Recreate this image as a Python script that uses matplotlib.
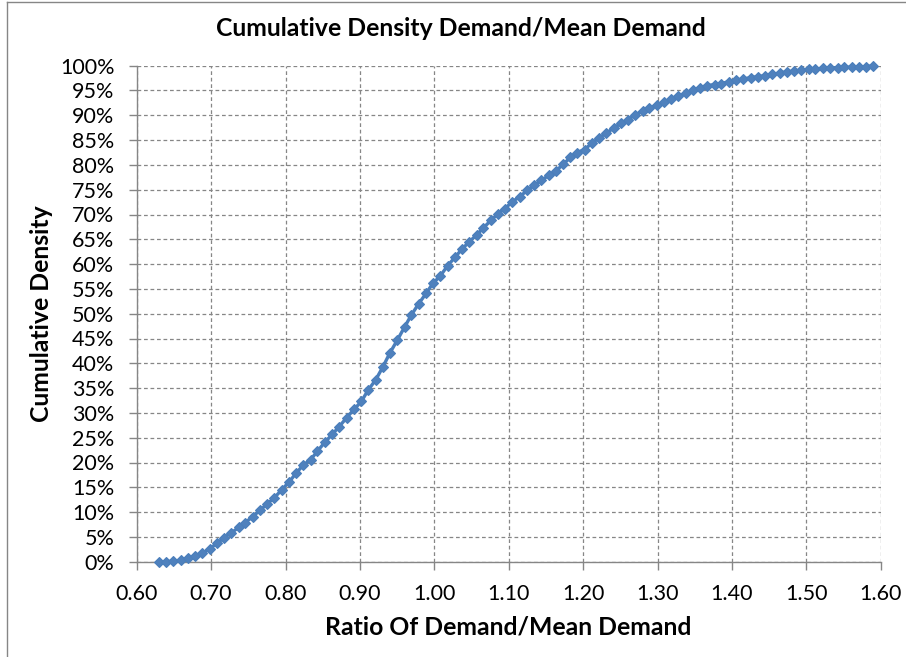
import matplotlib
matplotlib.use("Agg")
import matplotlib.pyplot as plt
from matplotlib.ticker import PercentFormatter, MultipleLocator, FormatStrFormatter
from matplotlib.lines import Line2D

# ---- data ----
ratio = [0.630, 0.640, 0.649, 0.659, 0.669, 0.678, 0.688, 0.698, 0.708, 0.717,
         0.727, 0.737, 0.746, 0.756, 0.766, 0.775, 0.785, 0.795, 0.805, 0.814,
         0.824, 0.834, 0.843, 0.853, 0.863, 0.872, 0.882, 0.892, 0.902, 0.911,
         0.921, 0.931, 0.940, 0.950, 0.960, 0.969, 0.979, 0.989, 0.998, 1.008,
         1.018, 1.028, 1.037, 1.047, 1.057, 1.066, 1.076, 1.086, 1.095, 1.105,
         1.115, 1.125, 1.134, 1.144, 1.154, 1.163, 1.173, 1.183, 1.192, 1.202,
         1.212, 1.222, 1.231, 1.241, 1.251, 1.260, 1.270, 1.280, 1.289, 1.299,
         1.309, 1.318, 1.328, 1.338, 1.348, 1.357, 1.367, 1.377, 1.386, 1.396,
         1.406, 1.415, 1.425, 1.435, 1.445, 1.454, 1.464, 1.474, 1.483, 1.493,
         1.503, 1.512, 1.522, 1.532, 1.542, 1.551, 1.561, 1.571, 1.580, 1.590]

cum_density = [0.0, 0.0, 0.1, 0.3, 0.7, 1.1, 1.7, 2.6, 3.7, 4.8,
               5.8, 6.9, 7.9, 9.1, 10.4, 11.6, 12.9, 14.5, 16.1, 17.8,
               19.5, 20.6, 22.3, 24.1, 25.7, 27.2, 29.0, 30.7, 32.3, 34.6,
               36.6, 39.3, 42.0, 44.6, 47.3, 49.7, 52.0, 54.1, 56.1, 57.6,
               59.7, 61.4, 63.0, 64.5, 65.9, 67.3, 68.8, 70.2, 71.2, 72.6,
               73.6, 74.9, 75.9, 76.9, 77.9, 78.7, 80.1, 81.5, 82.5, 83.1,
               84.4, 85.5, 86.4, 87.4, 88.4, 89.1, 90.1, 90.9, 91.4, 92.1,
               92.6, 93.3, 93.9, 94.4, 95.1, 95.6, 96.0, 96.2, 96.4, 96.8,
               97.1, 97.3, 97.6, 97.8, 98.0, 98.3, 98.5, 98.8, 98.9, 99.1,
               99.3, 99.3, 99.5, 99.5, 99.6, 99.7, 99.7, 99.7, 99.8, 100.0]

title = "Cumulative Density Demand/Mean Demand"
xlabel = "Ratio Of Demand/Mean Demand"
ylabel = "Cumulative Density"

# ---- styling ----
plt.rcParams['font.family'] = ['Lato', 'DejaVu Sans']
W, H, DPI = 906, 657, 100
fig = plt.figure(figsize=(W / DPI, H / DPI), dpi=DPI)

L, R = 136.7, 880.7
B, T = 561.7, 65.7
ax = fig.add_axes([L / W, 1 - B / H, (R - L) / W, (B - T) / H])

grid_c = "#868686"
line_c = "#4A7EBB"

ax.plot(ratio, cum_density, color=line_c, lw=2.4, marker="D", markersize=5.6,
        markerfacecolor="#4F81BD", markeredgecolor="#4A7EBB", markeredgewidth=0.8,
        zorder=3, clip_on=False)

ax.set_xlim(0.6, 1.6)
ax.set_ylim(0, 100)
ax.xaxis.set_major_locator(MultipleLocator(0.1))
ax.xaxis.set_major_formatter(FormatStrFormatter("%.2f"))
ax.yaxis.set_major_locator(MultipleLocator(5))
ax.yaxis.set_major_formatter(PercentFormatter(xmax=100, decimals=0))

ax.grid(True, color=grid_c, linestyle=(0, (3.0, 2.2)), linewidth=0.9)
ax.set_axisbelow(True)
for s in ("top", "right"):
    ax.spines[s].set_visible(False)
for s in ("left", "bottom"):
    ax.spines[s].set_color(grid_c)
    ax.spines[s].set_linewidth(1.0)

ax.tick_params(axis="both", direction="out", length=6, width=1.0, color=grid_c,
               labelsize=15.5, labelcolor="black")
ax.tick_params(axis="y", pad=10)
ax.tick_params(axis="x", pad=10)

fig.text(461 / W, 1 - 28 / H, title, ha="center", va="center",
         fontsize=17.8, fontweight="bold")
fig.text(508 / W, 1 - 627 / H, xlabel, ha="center", va="center",
         fontsize=17.8, fontweight="bold")
fig.text(42 / W, 1 - 314 / H, ylabel, ha="center", va="center", rotation=90,
         fontsize=17.8, fontweight="bold")

# chart-area border (left and top edges visible in the reference)
fig.add_artist(Line2D([7 / W, 7 / W], [0, 1 - 2 / H], color=grid_c, lw=1.0,
                      transform=fig.transFigure))
fig.add_artist(Line2D([7 / W, 1], [1 - 2 / H, 1 - 2 / H], color=grid_c, lw=1.0,
                      transform=fig.transFigure))

fig.savefig("out.png", dpi=DPI)
